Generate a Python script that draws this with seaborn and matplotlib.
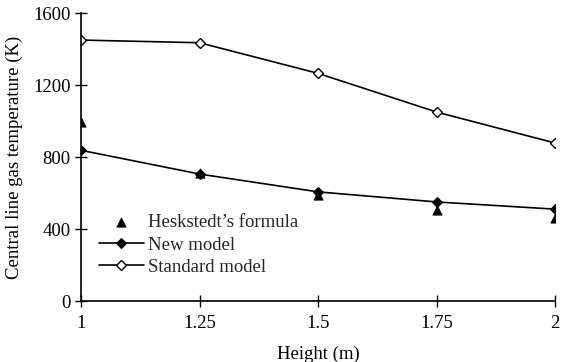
import numpy as np
import pandas as pd
import matplotlib
matplotlib.use("Agg")
import matplotlib.pyplot as plt
import seaborn as sns

# Data
height = [1, 1.25, 1.5, 1.75, 2]
heskstedt = [995, 710, 590, 508, 462]
new_model = [838, 706, 607, 551, 511]
standard_model = [1450, 1435, 1265, 1050, 878]

sns.set_theme(style="white")
plt.rcParams['font.family'] = ['Liberation Serif', 'DejaVu Serif']
plt.rcParams['font.size'] = 13.5

fig = plt.figure(figsize=(5.62, 3.62), dpi=100)
ax = fig.add_axes([0.144, 0.168, 0.844, 0.796])

sns.lineplot(x=height, y=standard_model, ax=ax, color='black', lw=1.2,
             marker='D', markersize=5, markerfacecolor='white',
             markeredgecolor='black', markeredgewidth=1, label='Standard model')
sns.lineplot(x=height, y=new_model, ax=ax, color='black', lw=1.2,
             marker='D', markersize=5, markerfacecolor='black',
             markeredgecolor='black', label='New model')
sns.scatterplot(x=height, y=heskstedt, ax=ax, color='black', marker='^',
                s=45, edgecolor='black', zorder=5, label="Heskstedt\u2019s formula")

ax.set_xlim(1, 2)
ax.set_ylim(0, 1600)
ax.set_xticks(height)
ax.set_xticklabels(['1', '1.25', '1.5', '1.75', '2'])
ax.set_yticks([0, 400, 800, 1200, 1600])
for s in ['top', 'right']:
    ax.spines[s].set_visible(False)
for s in ['left', 'bottom']:
    ax.spines[s].set_color('black')
    ax.spines[s].set_linewidth(1.2)
ax.tick_params(axis='both', direction='inout', length=8, width=1,
               colors='black', labelsize=13.5, left=True, bottom=True)
ax.tick_params(axis='x', pad=6)
ax.set_xlabel('Height (m)', fontsize=13.5, color='black', labelpad=10)
ax.set_ylabel('Central line gas temperature (K)', fontsize=13.5, color='black', labelpad=7)

handles, labels = ax.get_legend_handles_labels()
order = [2, 1, 0]
ax.legend([handles[i] for i in order], [labels[i] for i in order],
          loc='upper left', bbox_to_anchor=(0.018, 0.335), frameon=False,
          fontsize=13.5, handlelength=2.4, handletextpad=0.2, labelspacing=0.28,
          borderaxespad=0.3, borderpad=0.2)

fig.savefig('out.png', dpi=100)
